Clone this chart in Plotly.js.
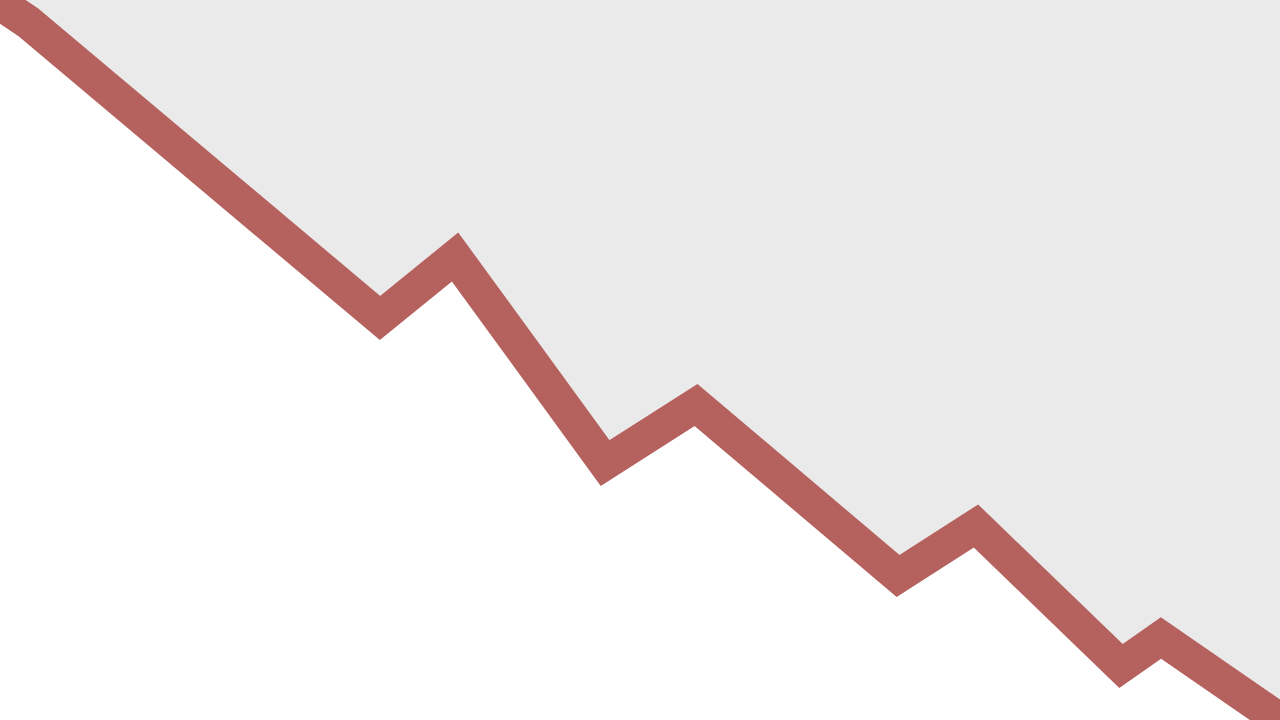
<!DOCTYPE html>
<html>
<head>
<meta charset="utf-8">
<script src="https://cdn.plot.ly/plotly-3.0.1.min.js"></script>
<style>
  html, body { margin: 0; padding: 0; background: #ffffff; }
  #chart { width: 1280px; height: 720px; }
</style>
</head>
<body>
<div id="chart"></div>
<script>
// values (x and y on a 0-100 scale)
const xValues = [-3.9, 2.19, 29.69, 35.55, 47.27, 54.38, 70.16, 76.25, 87.58, 90.7, 101.56];
const yValues = [104.17, 96.94, 55.83, 64.31, 35.69, 43.75, 20.0, 26.94, 7.5, 11.39, -1.94];

const lineColor = '#b5615e';

// white area under the line, grey plot background above it
const area = {
  x: xValues,
  y: yValues,
  type: 'scatter',
  mode: 'none',
  fill: 'tozeroy',
  fillcolor: '#ffffff',
  hoverinfo: 'skip',
};

const line = {
  x: xValues,
  y: yValues,
  type: 'scatter',
  mode: 'lines',
  line: { color: lineColor, width: 34 },
  hoverinfo: 'skip',
};

const layout = {
  width: 1280,
  height: 720,
  margin: { l: 0, r: 0, t: 0, b: 0, pad: 0 },
  paper_bgcolor: '#ffffff',
  plot_bgcolor: '#eaeaea',
  showlegend: false,
  xaxis: { range: [0, 100], visible: false, fixedrange: true },
  yaxis: { range: [0, 100], visible: false, fixedrange: true },
};

Plotly.newPlot('chart', [area, line], layout, { displayModeBar: false, staticPlot: true });
</script>
</body>
</html>
